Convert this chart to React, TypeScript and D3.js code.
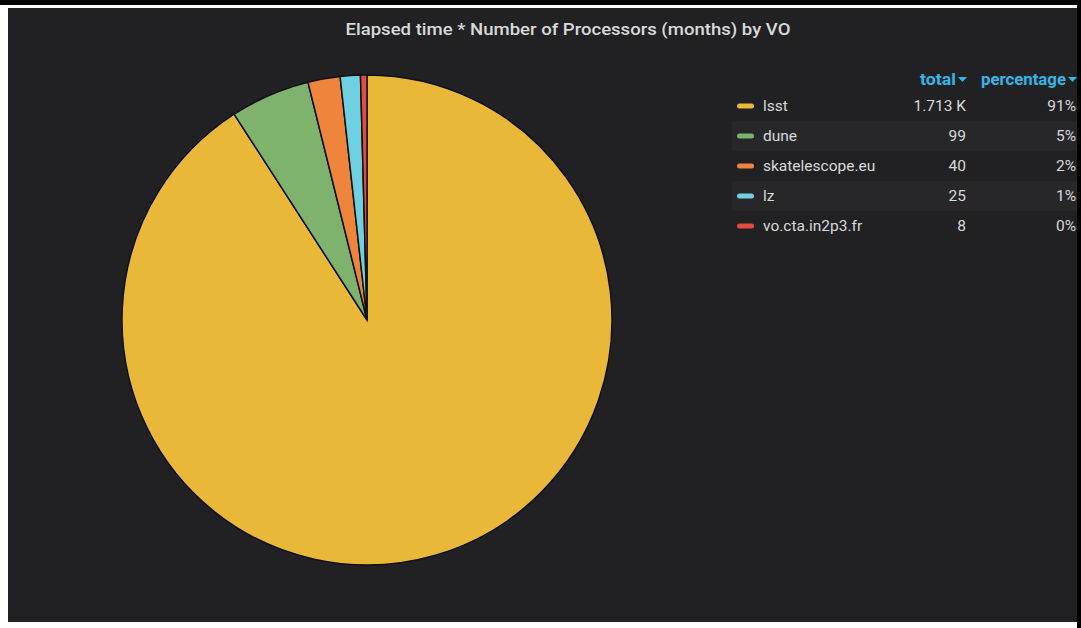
import { useEffect, useRef } from "react";
import * as d3 from "d3";

// VO names, totals (months), shown percentages and colors
const voNames = ["lsst", "dune", "skatelescope.eu", "lz", "vo.cta.in2p3.fr"];
const voTotals = [1713, 99, 40, 25, 8];
const voTotalLabels = ["1.713 K", "99", "40", "25", "8"];
const voColors = ["#EAB839", "#7EB26D", "#EF843C", "#6ED0E0", "#E24D42"];
const legendHeaders = ["total", "percentage"];
const chartTitle = "Elapsed time * Number of Processors (months) by VO";

const W = 1081;
const H = 628;

export default function App() {
  const svgRef = useRef<SVGSVGElement | null>(null);

  useEffect(() => {
    document.body.style.margin = "0";
    const svg = d3.select(svgRef.current);
    svg.selectAll("*").remove();

    // page frame: white page, black strips, dark panel
    svg.append("rect").attr("width", W).attr("height", H).attr("fill", "#ffffff");
    svg.append("rect").attr("x", 0).attr("y", 0).attr("width", W).attr("height", 5).attr("fill", "#000");
    svg.append("rect").attr("x", 1077).attr("y", 5).attr("width", 4).attr("height", H - 5).attr("fill", "#000");
    svg
      .append("rect")
      .attr("x", 8)
      .attr("y", 8)
      .attr("width", 1069)
      .attr("height", 614)
      .attr("fill", "#212123");

    svg
      .append("text")
      .attr("x", 568)
      .attr("y", 35)
      .attr("text-anchor", "middle")
      .attr("font-family", "Roboto")
      .attr("font-weight", 500)
      .attr("font-size", 17)
      .attr("textLength", 445)
      .attr("lengthAdjust", "spacingAndGlyphs")
      .attr("fill", "#d8d9da")
      .text(chartTitle);

    // pie
    const cx = 367;
    const cy = 320;
    const r = 245;
    const total = d3.sum(voTotals);
    const pie = d3
      .pie<number>()
      .sort(null)
      .value((d) => d)(voTotals);
    const arc = d3.arc<d3.PieArcDatum<number>>().innerRadius(0).outerRadius(r);
    svg
      .append("g")
      .attr("transform", `translate(${cx},${cy})`)
      .selectAll("path")
      .data(pie)
      .join("path")
      .attr("d", arc)
      .attr("fill", (_, i) => voColors[i])
      .attr("stroke", "#111")
      .attr("stroke-width", 1.5);

    // legend table
    const rowY = d3
      .scaleBand<number>()
      .domain(d3.range(voNames.length))
      .range([91, 241]);
    const legend = svg.append("g");
    legend
      .selectAll("rect.stripe")
      .data(d3.range(voNames.length).filter((i) => i % 2 === 1))
      .join("rect")
      .attr("x", 732)
      .attr("y", (i) => rowY(i)!)
      .attr("width", 345)
      .attr("height", rowY.bandwidth())
      .attr("fill", "#27272a");

    const headerX = [956, 1066];
    const headerW = [36, 85];
    legendHeaders.forEach((h, k) => {
      legend
        .append("text")
        .attr("x", headerX[k] - headerW[k])
        .attr("y", 85)
        .attr("font-family", "Roboto")
        .attr("font-weight", 700)
        .attr("font-size", 16)
        .attr("textLength", headerW[k])
        .attr("lengthAdjust", "spacingAndGlyphs")
        .attr("fill", "#33b5e5")
        .text(h);
      const tx = headerX[k] + 2;
      legend
        .append("path")
        .attr("d", `M${tx},77 L${tx + 9},77 L${tx + 4.5},82 Z`)
        .attr("fill", "#33b5e5");
    });

    const rows = legend
      .selectAll("g.row")
      .data(voNames)
      .join("g")
      .attr("transform", (_, i) => `translate(0,${rowY(i)! + rowY.bandwidth() / 2})`);
    rows
      .append("rect")
      .attr("x", 737)
      .attr("y", -2.5)
      .attr("width", 17)
      .attr("height", 5)
      .attr("rx", 2.5)
      .attr("fill", (_, i) => voColors[i]);
    const textStyle = (t: d3.Selection<SVGTextElement, string, any, any>) =>
      t
        .attr("y", 5)
        .attr("font-family", "Roboto")
        .attr("font-size", 15.5)
        .attr("fill", "#d8d9da");
    rows.append("text").attr("x", 763).call(textStyle).text((d) => d);
    rows
      .append("text")
      .attr("x", 966)
      .attr("text-anchor", "end")
      .call(textStyle)
      .text((_, i) => voTotalLabels[i]);
    rows
      .append("text")
      .attr("x", 1076)
      .attr("text-anchor", "end")
      .call(textStyle)
      .text((_, i) => `${Math.round((voTotals[i] / total) * 100)}%`);
  }, []);

  return (
    <svg
      ref={svgRef}
      width={W}
      height={H}
      style={{ position: "absolute", left: 0, top: 0, display: "block" }}
    />
  );
}
